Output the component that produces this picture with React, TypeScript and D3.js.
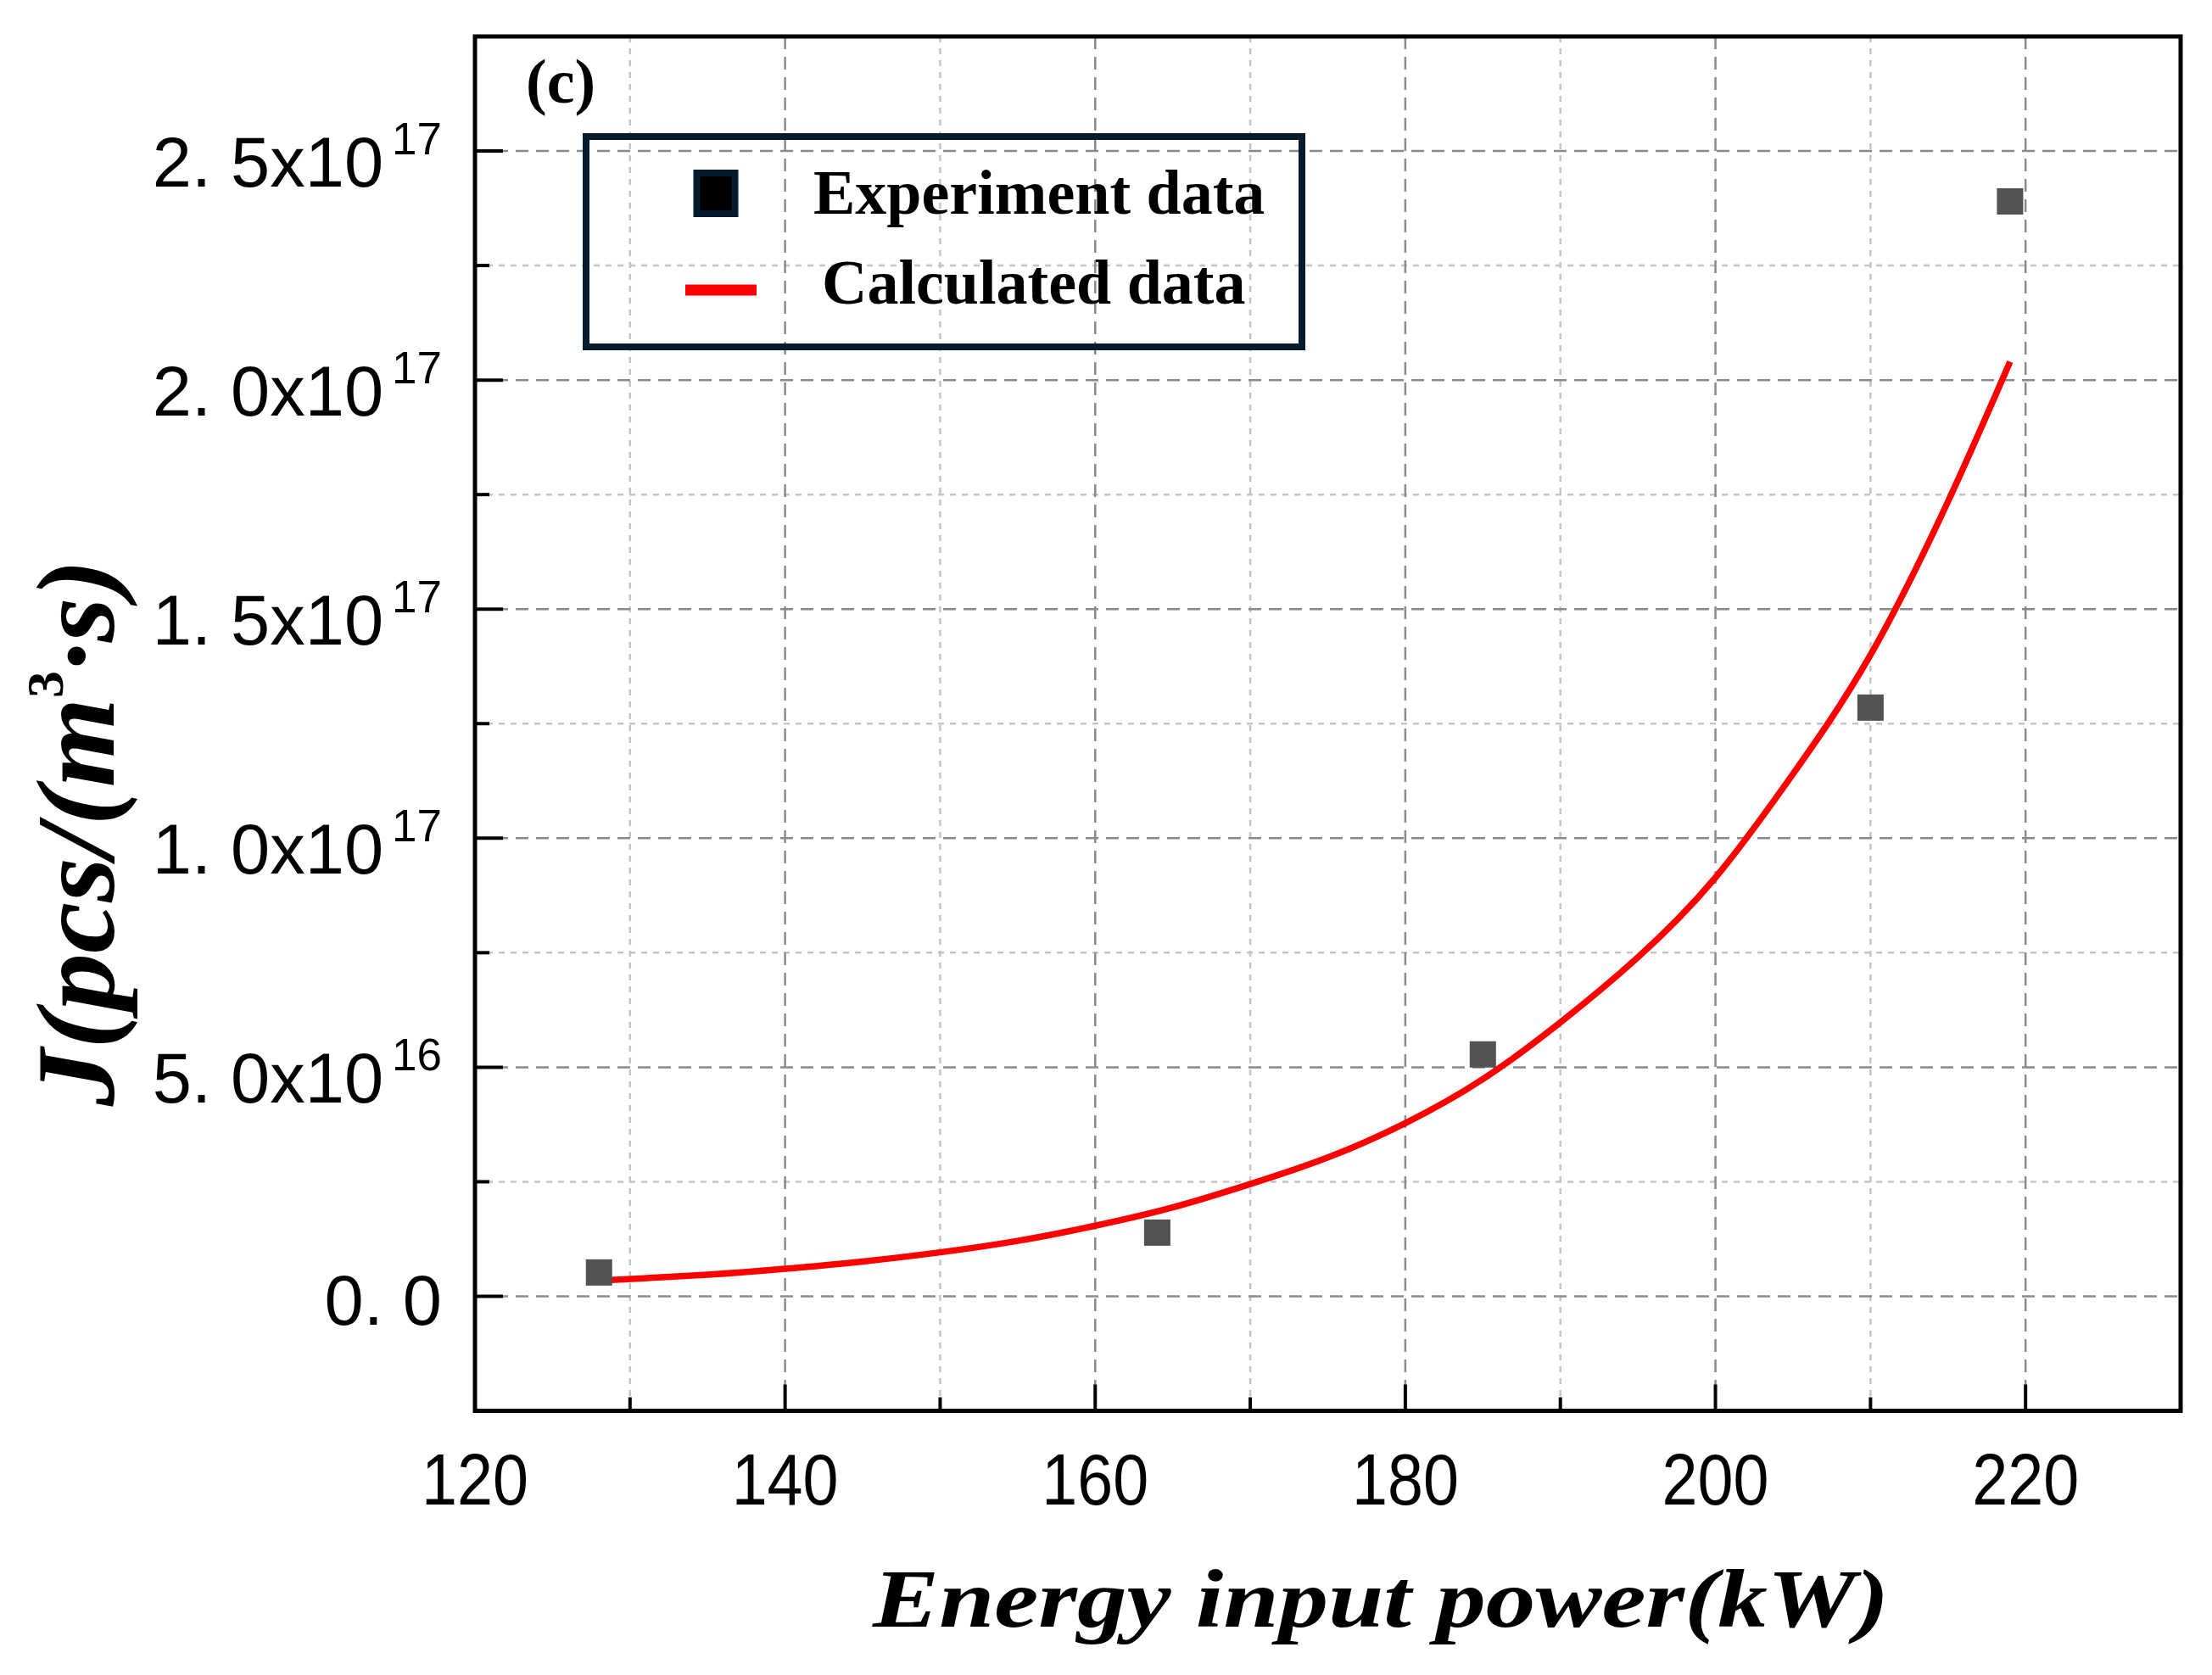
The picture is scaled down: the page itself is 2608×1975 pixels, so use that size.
import React, { useEffect, useRef } from "react";
import { select, scaleLinear, line, curveNatural } from "d3";

// experiment points (square markers)
const expPower = [128, 164, 185, 210, 219];
const expJ = [5.2e15, 1.39e16, 5.28e16, 1.285e17, 2.39e17];

// calculated curve
const calcPower = [128, 135, 140, 145, 150, 155, 160, 165, 170, 175, 180, 185, 190, 195, 200, 205, 210, 215, 219];
const calcJ = [
  3.4e15, 4.7e15, 6.0e15, 7.6e15, 9.6e15, 1.21e16, 1.54e16, 1.94e16, 2.45e16, 3.03e16,
  3.78e16, 4.74e16, 5.98e16, 7.4e16, 9.14e16, 1.14e17, 1.4e17, 1.735e17, 2.04e17,
];

const xMajor = [120, 140, 160, 180, 200, 220];
const xMinor = [130, 150, 170, 190, 210];
const yMajor = [0, 5e16, 1e17, 1.5e17, 2e17, 2.5e17];
const yMinor = [2.5e16, 7.5e16, 1.25e17, 1.75e17, 2.25e17];
const yMantissa = ["0. 0", "5. 0x10", "1. 0x10", "1. 5x10", "2. 0x10", "2. 5x10"];
const yExponent = ["", "16", "17", "17", "17", "17"];

const legendLabels = ["Experiment data", "Calculated data"];

const WIDTH = 2608;
const HEIGHT = 1975;
const LEFT = 560;
const RIGHT = 2571;
const TOP = 43;
const BOTTOM = 1663.5;

const SANS = "'Liberation Sans', Arial, sans-serif";
const SERIF = "'Liberation Serif', 'Times New Roman', serif";

const App = () => {
  const svgRef = useRef<SVGSVGElement | null>(null);

  useEffect(() => {
    document.body.style.margin = "0";
    const svg = select(svgRef.current);
    svg.selectAll("*").remove();

    const x = scaleLinear().domain([120, 230]).range([LEFT, RIGHT]);
    const y = scaleLinear().domain([-2.5e16, 2.75e17]).range([BOTTOM, TOP]);

    // grid: minor dotted, major dashed
    const grid = svg.append("g");
    grid
      .selectAll(".xminor")
      .data(xMinor)
      .enter()
      .append("line")
      .attr("x1", (d) => x(d))
      .attr("x2", (d) => x(d))
      .attr("y1", TOP)
      .attr("y2", BOTTOM)
      .attr("stroke", "#c4c4c4")
      .attr("stroke-width", 2.5)
      .attr("stroke-dasharray", "7,7");
    grid
      .selectAll(".yminor")
      .data(yMinor)
      .enter()
      .append("line")
      .attr("x1", LEFT)
      .attr("x2", RIGHT)
      .attr("y1", (d) => y(d))
      .attr("y2", (d) => y(d))
      .attr("stroke", "#c4c4c4")
      .attr("stroke-width", 2.5)
      .attr("stroke-dasharray", "7,7");
    grid
      .selectAll(".xmajor")
      .data(xMajor.slice(1))
      .enter()
      .append("line")
      .attr("x1", (d) => x(d))
      .attr("x2", (d) => x(d))
      .attr("y1", TOP)
      .attr("y2", BOTTOM)
      .attr("stroke", "#8a8a8a")
      .attr("stroke-width", 2.5)
      .attr("stroke-dasharray", "15,9");
    grid
      .selectAll(".ymajor")
      .data(yMajor)
      .enter()
      .append("line")
      .attr("x1", LEFT)
      .attr("x2", RIGHT)
      .attr("y1", (d) => y(d))
      .attr("y2", (d) => y(d))
      .attr("stroke", "#8a8a8a")
      .attr("stroke-width", 2.5)
      .attr("stroke-dasharray", "15,9");

    // calculated curve
    const calcLine = line<number>()
      .x((d, i) => x(calcPower[i]))
      .y((d) => y(d))
      .curve(curveNatural);
    svg
      .append("path")
      .datum(calcJ)
      .attr("d", calcLine)
      .attr("fill", "none")
      .attr("stroke", "#ff0000")
      .attr("stroke-width", 7.5);

    // experiment squares
    const SQ = 31;
    svg
      .append("g")
      .selectAll("rect")
      .data(expJ)
      .enter()
      .append("rect")
      .attr("x", (d, i) => x(expPower[i]) - SQ / 2)
      .attr("y", (d) => y(d) - SQ / 2)
      .attr("width", SQ)
      .attr("height", SQ)
      .attr("fill", "#525252");

    // frame
    svg
      .append("rect")
      .attr("x", LEFT)
      .attr("y", TOP)
      .attr("width", RIGHT - LEFT)
      .attr("height", BOTTOM - TOP)
      .attr("fill", "none")
      .attr("stroke", "#000")
      .attr("stroke-width", 5);

    // ticks (inward)
    const ticks = svg.append("g").attr("stroke", "#000").attr("stroke-width", 4);
    xMajor.forEach((d) => {
      ticks.append("line").attr("x1", x(d)).attr("x2", x(d)).attr("y1", BOTTOM).attr("y2", BOTTOM - 31);
    });
    xMinor.forEach((d) => {
      ticks.append("line").attr("x1", x(d)).attr("x2", x(d)).attr("y1", BOTTOM).attr("y2", BOTTOM - 16);
    });
    yMajor.forEach((d) => {
      ticks.append("line").attr("x1", LEFT).attr("x2", LEFT + 33).attr("y1", y(d)).attr("y2", y(d));
    });
    yMinor.forEach((d) => {
      ticks.append("line").attr("x1", LEFT).attr("x2", LEFT + 17).attr("y1", y(d)).attr("y2", y(d));
    });

    // x tick labels
    svg
      .append("g")
      .selectAll("text")
      .data(xMajor)
      .enter()
      .append("text")
      .attr("x", (d) => x(d))
      .attr("y", 1774)
      .attr("text-anchor", "middle")
      .attr("font-family", SANS)
      .attr("font-size", 86)
      .attr("textLength", 126)
      .attr("lengthAdjust", "spacingAndGlyphs")
      .text((d) => d);

    // y tick labels
    yMajor.forEach((d, i) => {
      const t = svg
        .append("text")
        .attr("x", 521)
        .attr("y", y(d) + (yExponent[i] ? 42 : 34))
        .attr("text-anchor", "end")
        .attr("font-family", SANS)
        .attr("font-size", 83);
      t.append("tspan").text(yMantissa[i]);
      if (yExponent[i]) {
        t.append("tspan").attr("dx", 10).attr("dy", -38).attr("font-size", 53).text(yExponent[i]);
      }
    });

    // axis titles
    svg
      .append("text")
      .attr("x", 1029)
      .attr("y", 1918)
      .attr("font-family", SERIF)
      .attr("font-weight", "bold")
      .attr("font-style", "italic")
      .attr("font-size", 98)
      .attr("textLength", 1198)
      .attr("lengthAdjust", "spacingAndGlyphs")
      .text("Energy input power(kW)");

    const yTitle = svg
      .append("text")
      .attr("transform", "translate(134, 982) rotate(-90)")
      .attr("text-anchor", "middle")
      .attr("font-family", SERIF)
      .attr("font-weight", "bold")
      .attr("font-style", "italic")
      .attr("font-size", 132)
      .attr("textLength", 645)
      .attr("lengthAdjust", "spacingAndGlyphs");
    yTitle.append("tspan").text("J(pcs/(m");
    yTitle.append("tspan").attr("dy", -60).attr("font-size", 62).attr("font-style", "normal").text("3");
    yTitle.append("tspan").attr("dy", 60).text("\u00b7s)");

    // panel label
    svg
      .append("text")
      .attr("x", 620)
      .attr("y", 121)
      .attr("font-family", SERIF)
      .attr("font-weight", "bold")
      .attr("font-size", 74)
      .text("(c)");

    // legend (transparent box, grid shows through)
    const legend = svg.append("g");
    legend
      .append("rect")
      .attr("x", 691)
      .attr("y", 161)
      .attr("width", 844)
      .attr("height", 248)
      .attr("fill", "none")
      .attr("stroke", "#051c2c")
      .attr("stroke-width", 8);
    legend
      .append("rect")
      .attr("x", 821.5)
      .attr("y", 204)
      .attr("width", 45)
      .attr("height", 48)
      .attr("fill", "#000")
      .attr("stroke", "#051c2c")
      .attr("stroke-width", 8);
    legend
      .append("line")
      .attr("x1", 808)
      .attr("x2", 892)
      .attr("y1", 342)
      .attr("y2", 342)
      .attr("stroke", "#ff0000")
      .attr("stroke-width", 13);
    legend
      .selectAll("text")
      .data(legendLabels)
      .enter()
      .append("text")
      .attr("x", (d, i) => (i === 0 ? 959 : 969))
      .attr("y", (d, i) => (i === 0 ? 252 : 358))
      .attr("font-family", SERIF)
      .attr("font-weight", "bold")
      .attr("font-size", 74)
      .text((d) => d);
  }, []);

  return (
    <svg
      ref={svgRef}
      width={WIDTH}
      height={HEIGHT}
      style={{ display: "block", background: "#fff" }}
    ></svg>
  );
};

export default App;
